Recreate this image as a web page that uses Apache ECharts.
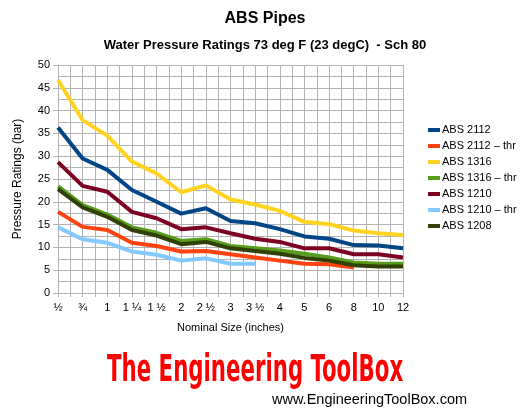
<!DOCTYPE html>
<html>
<head>
<meta charset="utf-8">
<title>ABS Pipes</title>
<script src="https://cdn.jsdelivr.net/npm/echarts@6/dist/echarts.min.js"></script>
<style>
  html, body { margin: 0; padding: 0; background: #fff; }
  #main { width: 530px; height: 411px; }
</style>
</head>
<body>
<div id="main"></div>
<script>
// nominal sizes (x axis)
var sizes = ['½', '¾', '1', '1 ¼', '1 ½', '2', '2 ½', '3', '3 ½', '4', '5', '6', '8', '10', '12'];

// pressure ratings (bar)
var abs2112    = [36.3, 29.5, 27.0, 22.6, 20.0, 17.4, 18.6, 15.8, 15.3, 14.0, 12.4, 11.9, 10.5, 10.4, 9.8];
var abs2112Thr = [17.8, 14.5, 13.8, 11.0, 10.3, 9.1, 9.2, 8.5, 7.8, 7.1, 6.4, 6.3, 5.6, null, null];
var abs1316    = [46.7, 37.9, 34.5, 28.8, 26.2, 22.1, 23.6, 20.5, 19.4, 18.0, 15.6, 15.1, 13.7, 13.1, 12.7];
var abs1316Thr = [23.4, 19.3, 17.2, 14.4, 13.2, 11.4, 11.8, 10.3, 9.8, 9.3, 8.6, 7.8, 6.7, 6.4, 6.4];
var abs1210    = [28.7, 23.5, 22.2, 17.8, 16.4, 14.0, 14.4, 13.1, 11.9, 11.2, 9.8, 9.8, 8.5, 8.5, 7.8];
var abs1210Thr = [14.4, 11.8, 11.0, 9.1, 8.4, 7.1, 7.6, 6.4, 6.4, null, null, null, null, null, null];
var abs1208    = [22.8, 18.8, 16.7, 13.8, 12.6, 10.7, 11.2, 9.8, 9.2, 8.6, 7.7, 7.1, 6.1, 5.8, 5.8];

var seriesNames = ['ABS 2112', 'ABS 2112 – thr', 'ABS 1316', 'ABS 1316 – thr', 'ABS 1210', 'ABS 1210 – thr', 'ABS 1208'];
var seriesData = [abs2112, abs2112Thr, abs1316, abs1316Thr, abs1210, abs1210Thr, abs1208];
var colors = ['#004586', '#ff420e', '#ffd320', '#579d1c', '#7e0021', '#83caff', '#314004'];

var font = 'Liberation Sans, Arial, sans-serif';
var gridColor = '#b3b3b3';

// turn a list of values into [index, value] pairs
function toPoints(arr) {
	var pts = [];
	for (var i = 0; i < arr.length; i++) {
		if (arr[i] != null) pts.push([i, arr[i]]);
	}
	return pts;
}

var series = [];
for (var i = 0; i < seriesNames.length; i++) {
	series.push({
		name: seriesNames[i],
		type: 'line',
		data: toPoints(seriesData[i]),
		symbol: 'none',
		lineStyle: { width: 4, color: colors[i] },
		itemStyle: { color: colors[i] },
		animation: false
	});
}

var myChart = echarts.init(document.getElementById('main'));

var option = {
	animation: false,
	textStyle: { fontFamily: font },
	title: [
		{
			text: 'ABS Pipes',
			left: 'center',
			top: 6,
			textStyle: { fontSize: 16, fontWeight: 'bold', color: '#000', fontFamily: font }
		},
		{
			text: 'Water Pressure Ratings 73 deg F (23 degC)  - Sch 80',
			left: 'center',
			top: 34,
			textStyle: { fontSize: 13, fontWeight: 'bold', color: '#000', fontFamily: font }
		}
	],
	legend: {
		orient: 'vertical',
		left: 423,
		top: 119,
		icon: 'rect',
		itemWidth: 12,
		itemHeight: 4,
		itemGap: 4,
		data: seriesNames,
		textStyle: { fontSize: 11, color: '#000', fontFamily: font, padding: [0, 0, 0, -3], lineHeight: 12 }
	},
	grid: { left: 58, right: 127, top: 65, bottom: 118 },
	xAxis: {
		type: 'value',
		min: 0,
		max: 14,
		interval: 1,
		name: 'Nominal Size (inches)',
		nameLocation: 'middle',
		nameGap: 29,
		nameTextStyle: { fontSize: 11, color: '#000', fontFamily: font },
		axisLine: { lineStyle: { color: gridColor } },
		axisTick: { show: true, length: 4, lineStyle: { color: gridColor } },
		minorTick: { show: true, splitNumber: 2, length: 4, lineStyle: { color: gridColor } },
		splitLine: { show: true, lineStyle: { color: gridColor } },
		minorSplitLine: { show: true, lineStyle: { color: gridColor } },
		axisLabel: {
			fontSize: 11, color: '#000', fontFamily: font, margin: 9,
			formatter: function (v) { return sizes[v] || ''; }
		}
	},
	yAxis: {
		type: 'value',
		min: 0,
		max: 50,
		interval: 5,
		name: 'Pressure Ratings (bar)',
		nameLocation: 'middle',
		nameGap: 34,
		nameTextStyle: { fontSize: 12, color: '#000', fontFamily: font },
		axisLine: { show: true, lineStyle: { color: gridColor } },
		axisTick: { show: true, length: 5, lineStyle: { color: gridColor } },
		splitLine: { show: true, lineStyle: { color: gridColor } },
		minorSplitLine: { show: true, lineStyle: { color: gridColor } },
		minorTick: { show: false, splitNumber: 2 },
		axisLabel: { fontSize: 11, color: '#000', fontFamily: font, margin: 8 }
	},
	graphic: [
		{
			type: 'text',
			x: 107,
			y: 371,
			scaleX: 0.64,
			style: {
				text: 'The Engineering ToolBox',
				fill: '#ff0000',
				font: 'bold 37px "DejaVu Sans Condensed", sans-serif',
				verticalAlign: 'middle'
			}
		},
		{
			type: 'text',
			left: 272,
			top: 392,
			style: {
				text: 'www.EngineeringToolBox.com',
				fill: '#000',
				font: '14.5px "Liberation Sans", Arial, sans-serif'
			}
		}
	],
	series: series
};

myChart.setOption(option);
</script>
</body>
</html>
